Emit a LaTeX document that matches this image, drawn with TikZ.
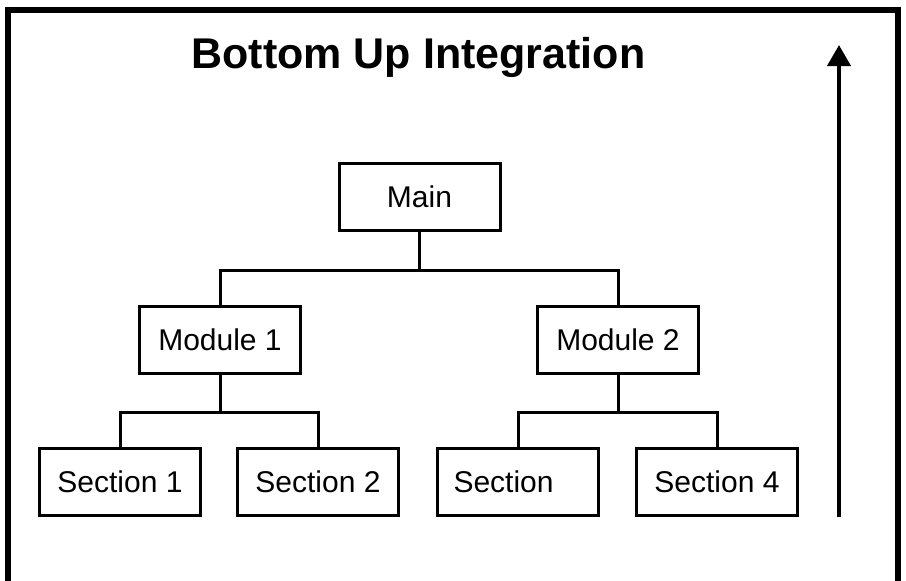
\documentclass[tikz,border=0pt]{standalone}
\usepackage{fontspec}
\setmainfont{Liberation Sans}
\usetikzlibrary{arrows.meta}
\tikzset{
	unitbox/.style={draw, line width=3pt, minimum width=161pt, minimum height=67pt, inner sep=0pt, font=\fontsize{30}{36}\selectfont},
	wire/.style={line width=3pt},
}

\begin{document}
\begin{tikzpicture}[x=1pt, y=-1pt]
		%%%%% START %%%%%
		\useasboundingbox (0, 0) rectangle (906, 581);
		\fill[white] (0, 0) rectangle (906, 581);
		
		% frame, open at the bottom
		\draw[line width=6pt] (8, 600) -- (8, 10) -- (898, 10) -- (898, 600);
		
		\node[anchor=base, font=\bfseries\fontsize{43}{50}\selectfont] (title) at (418.5, 68) {Bottom Up Integration};
		
		\node[unitbox] (main) at (419.5, 197) {Main};
		
		\node[unitbox] (mod1) at (220, 340) {Module 1};
		\node[unitbox] (mod2) at (618, 340) {Module 2};
		
		\node[unitbox] (sec1) at (120, 481.5) {Section 1};
		\node[unitbox] (sec2) at (318, 481.5) {Section 2};
		\node[unitbox, text width=129pt, align=left] (sec3) at (518, 482) {Section};
		\node[unitbox] (sec4) at (717, 482) {Section 4};
		
		\draw[wire] (main.south) -- ++(0, 38) -| (mod1.north);
		\draw[wire] (main.south) ++(0, 38) -| (mod2.north);
		
		\draw[wire] (mod1.south) -- ++(0, 37.5) -| (sec1.north);
		\draw[wire] (mod1.south) ++(0, 37.5) -| (sec2.north);
		
		\draw[wire] (mod2.south) -- ++(0, 37.5) -| (sec3.north);
		\draw[wire] (mod2.south) ++(0, 37.5) -| (sec4.north);
		
		% direction of integration
		\coordinate (foot) at (839, 517);
		\coordinate (head) at (839, 45);
		\draw[line width=4pt, -{Triangle[width=23pt, length=21pt]}] (foot) -- (head);
		%%%%% END %%%%%
	\end{tikzpicture}
\end{document}
